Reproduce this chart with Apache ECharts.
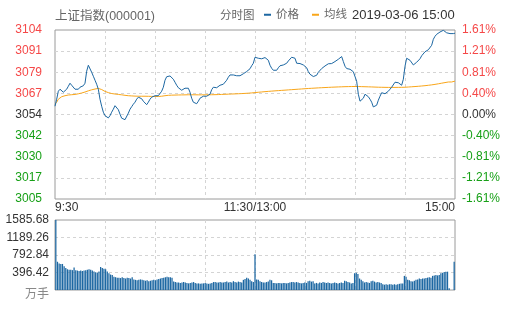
<!DOCTYPE html>
<html><head><meta charset="utf-8">
<script src="https://cdn.jsdelivr.net/npm/echarts@6/dist/echarts.min.js"></script>
<style>html,body{margin:0;padding:0;background:#fff}#c{width:505px;height:310px}</style>
</head><body><div id="c"></div>
<script>
const TITLE = '上证指数(000001)';
const SUBTITLE = '分时图';
const DATETIME = '2019-03-06 15:00';
const BASE = 3054.25;
const RANGE = 49.75;
const PRICE_LABELS = ['3005','3017','3030','3042','3054','3067','3079','3091','3104'];
const PCT_LABELS = ['-1.61%','-1.21%','-0.81%','-0.40%','0.00%','0.40%','0.81%','1.21%','1.61%'];
const TIME_LABELS = ['9:30','11:30/13:00','15:00'];
const VOL_MAX = 1585.68;
const VOL_LABELS = ['万手','396.42','792.84','1189.26','1585.68'];

const PRICES = [
3059.13,3063.25,3067.95,3069.13,3069.13,3067.37,3066.78,3069.13,3070.89,3072.66,
3071.48,3070.89,3069.13,3069.72,3069.13,3070.31,3070.89,3071.19,3072.66,3079.71,
3083.24,3082.65,3079.13,3076.77,3074.42,3072.07,3069.13,3063.25,3059.13,3055.61,
3053.55,3052.67,3052.25,3053.55,3055.61,3057.37,3059.43,3059.43,3057.08,3054.43,
3052.08,3051.20,3051.20,3052.08,3055.02,3057.37,3058.84,3060.31,3061.49,3063.25,
3064.43,3065.01,3063.54,3062.07,3060.90,3060.02,3061.49,3063.25,3064.43,3065.01,
3065.31,3065.31,3065.31,3065.60,3067.95,3070.31,3074.42,3076.48,3077.07,3076.95,
3076.19,3075.01,3073.25,3071.48,3070.01,3068.84,3068.54,3068.84,3069.72,3070.01,
3069.72,3067.37,3063.84,3061.49,3060.90,3060.60,3062.07,3063.84,3064.72,3065.01,
3064.72,3065.01,3065.31,3066.19,3068.84,3070.31,3071.48,3070.01,3070.60,3071.48,
3072.07,3072.07,3072.66,3074.42,3076.19,3077.54,3077.54,3077.54,3077.36,3077.07,
3076.48,3077.07,3077.66,3078.24,3079.13,3079.54,3080.30,3081.18,3082.95,3084.42,
3087.95,3088.12,3087.36,3086.77,3087.06,3087.18,3087.77,3087.06,3086.18,3083.24,
3081.48,3080.30,3079.42,3080.30,3081.77,3082.95,3083.42,3083.42,3083.83,3084.42,
3085.77,3086.77,3087.95,3088.71,3087.36,3084.42,3084.42,3084.24,3083.83,3083.42,
3083.83,3081.77,3079.42,3077.95,3077.19,3076.60,3076.60,3077.36,3079.13,3080.30,
3081.30,3081.89,3082.83,3083.54,3084.12,3084.24,3084.24,3084.71,3085.42,3086.01,
3086.77,3087.36,3088.36,3085.42,3082.65,3081.30,3080.89,3080.89,3080.30,3079.42,
3078.83,3073.83,3066.19,3062.07,3060.90,3063.84,3066.19,3065.60,3064.72,3063.25,
3061.49,3058.72,3058.37,3059.72,3062.66,3065.01,3067.07,3066.78,3066.48,3066.19,
3067.95,3069.13,3070.31,3071.48,3073.25,3073.83,3072.95,3072.36,3071.48,3075.01,
3082.65,3087.36,3087.95,3086.18,3085.01,3083.42,3084.12,3085.01,3086.18,3087.06,
3088.83,3090.00,3091.18,3092.06,3092.36,3092.94,3095.00,3098.53,3100.29,3101.47,
3102.06,3102.82,3103.23,3103.82,3103.06,3102.35,3101.88,3101.88,3101.88,3101.88,
3102.10
];

const AVG = [
3060.31,3061.49,3063.25,3064.13,3064.72,3065.01,3065.31,3065.49,3065.72,3065.78,
3065.90,3066.01,3066.07,3066.19,3066.43,3066.66,3066.90,3067.13,3067.48,3067.84,
3068.19,3068.54,3068.78,3069.01,3069.25,3069.48,3069.60,3069.42,3068.95,3068.25,
3067.84,3067.48,3067.13,3066.78,3066.60,3066.43,3066.31,3066.19,3066.07,3065.96,
3065.84,3065.66,3065.54,3065.43,3065.31,3065.25,3065.19,3065.13,3065.07,3065.01,
3065.01,3065.01,3065.01,3065.01,3065.01,3065.01,3064.96,3064.96,3064.90,3064.90,
3064.84,3064.84,3064.84,3064.96,3065.01,3065.13,3065.31,3065.49,3065.54,3065.60,
3065.63,3065.66,3065.69,3065.72,3065.74,3065.76,3065.78,3065.80,3065.82,3065.84,
3065.86,3065.87,3065.87,3065.86,3065.85,3065.84,3065.83,3065.83,3065.83,3065.83,
3065.83,3065.84,3065.85,3065.86,3065.88,3065.90,3065.93,3065.96,3065.99,3066.02,
3066.07,3066.11,3066.15,3066.19,3066.23,3066.27,3066.31,3066.35,3066.39,3066.43,
3066.47,3066.51,3066.56,3066.61,3066.67,3066.73,3066.80,3066.87,3066.95,3067.04,
3067.14,3067.24,3067.34,3067.43,3067.52,3067.61,3067.70,3067.78,3067.86,3067.94,
3068.02,3068.10,3068.17,3068.24,3068.31,3068.38,3068.45,3068.52,3068.59,3068.66,
3068.73,3068.80,3068.87,3068.94,3069.01,3069.08,3069.15,3069.22,3069.29,3069.36,
3069.43,3069.50,3069.56,3069.62,3069.68,3069.74,3069.80,3069.86,3069.92,3069.97,
3070.02,3070.07,3070.12,3070.17,3070.22,3070.27,3070.32,3070.36,3070.40,3070.44,
3070.48,3070.52,3070.56,3070.60,3070.63,3070.66,3070.68,3070.70,3070.72,3070.73,
3070.74,3070.74,3070.72,3070.69,3070.66,3070.63,3070.60,3070.57,3070.54,3070.51,
3070.47,3070.43,3070.39,3070.35,3070.32,3070.29,3070.27,3070.25,3070.23,3070.21,
3070.20,3070.19,3070.19,3070.19,3070.20,3070.21,3070.22,3070.23,3070.24,3070.26,
3070.30,3070.36,3070.43,3070.50,3070.57,3070.64,3070.71,3070.78,3070.86,3070.94,
3071.03,3071.12,3071.22,3071.33,3071.45,3071.57,3071.70,3071.84,3071.99,3072.15,
3072.32,3072.50,3072.68,3072.86,3073.04,3073.21,3073.38,3073.40,3073.40,3073.40,
3073.90
];

const VOLUMES = [
1585.68,640,600,590,590,540,500,470,460,460,
450,510,450,440,430,440,430,440,450,460,
470,460,440,420,400,390,420,520,500,480,
470,420,380,350,340,300,290,280,280,270,
290,270,260,280,270,260,290,240,230,220,
230,240,230,220,210,220,200,210,220,230,
220,240,250,260,270,280,290,300,290,290,
280,190,180,170,170,160,170,180,170,160,
150,160,170,180,160,150,150,140,150,150,
160,150,140,150,160,180,180,170,170,180,
170,170,180,190,170,180,170,200,180,170,
190,180,170,230,250,280,260,230,200,180,
810,240,230,200,180,170,170,180,190,230,
220,160,160,150,160,160,150,160,160,150,
160,170,180,180,170,180,170,160,150,160,
170,160,200,210,190,200,150,160,150,170,
160,180,170,160,170,160,150,160,170,160,
150,160,170,160,210,200,180,170,150,160,
380,390,360,260,230,200,170,180,170,160,
200,210,190,170,180,170,160,130,120,130,
120,130,130,120,130,120,130,140,150,150,
320,300,230,220,200,190,210,230,240,260,
250,260,260,270,280,290,280,320,330,340,
330,340,380,390,410,415,415,40,0,0,
640
];

const FONT = "'Liberation Sans','Noto Sans CJK SC',sans-serif";
const BLUE = '#1c67a2';
const ORANGE = '#f9a61a';
const RED = '#f54848';
const GREEN = '#17a017';
const DARK = '#333';
const GRAYTXT = '#666';
const BORDER = '#9a9a9a';
const DASH = '#d4d4d4';

const CATS = PRICES.map((_, i) => String(i));
const STEP = RANGE / 4;
const VSTEP = VOL_MAX / 4;
const priceIdx = v => Math.round((parseFloat(v) + RANGE) / STEP);
const volIdx = v => Math.round(parseFloat(v) / VSTEP);
const sideColor = v => { const i = priceIdx(v); return i < 4 ? GREEN : (i === 4 ? DARK : RED); };
const dashStyle = { color: DASH, type: [3, 3], width: 1 };

const chart = echarts.init(document.getElementById('c'), null, { renderer: 'canvas' });
chart.setOption({
  animation: false,
  backgroundColor: '#fff',
  title: {
    text: TITLE, left: 55, top: 10, padding: 0,
    textStyle: { fontSize: 12.5, fontWeight: 'normal', color: GRAYTXT, fontFamily: FONT }
  },
  legend: {
    data: ['价格', '均线'], left: 264, top: 9, padding: 0,
    icon: 'rect', itemWidth: 7, itemHeight: 2, itemGap: 13,
    textStyle: { color: GRAYTXT, fontSize: 11.5, fontFamily: FONT },
    selectedMode: false
  },
  graphic: [
    { type: 'text', left: 220, top: 10, style: { text: SUBTITLE, fill: GRAYTXT, fontSize: 11.5, fontFamily: FONT } },
    { type: 'text', left: 352, top: 9, style: { text: DATETIME, fill: DARK, fontSize: 13, fontFamily: FONT } }
  ],
  grid: [
    { left: 55, top: 30, width: 400, height: 169, show: true, borderColor: BORDER, borderWidth: 1, backgroundColor: 'transparent' },
    { left: 55, top: 220, width: 400, height: 70, show: true, borderColor: BORDER, borderWidth: 1, backgroundColor: 'transparent' }
  ],
  xAxis: [
    {
      type: 'category', gridIndex: 0, data: CATS, boundaryGap: false,
      axisLine: { show: false }, axisTick: { show: false },
      axisLabel: {
        interval: 119, margin: 3, color: DARK, fontSize: 12, fontFamily: FONT,
        formatter: (v) => {
          const n = parseInt(v, 10);
          if (n === 0) return '{l|' + TIME_LABELS[0] + '}';
          if (n === 240) return '{r|' + TIME_LABELS[2] + '}';
          return TIME_LABELS[1];
        },
        rich: {
          l: { padding: [0, 0, 0, 23.5], color: DARK, fontSize: 12, fontFamily: FONT },
          r: { padding: [0, 30, 0, 0], color: DARK, fontSize: 12, fontFamily: FONT }
        }
      },
      splitLine: { show: true, interval: (i) => i > 0 && i < 240 && i % 30 === 0, lineStyle: dashStyle }
    },
    {
      type: 'category', gridIndex: 1, data: CATS, boundaryGap: true,
      axisLine: { show: false }, axisTick: { show: false }, axisLabel: { show: false },
      splitLine: { show: false }
    },
    {
      type: 'value', gridIndex: 1, min: 0, max: 240, interval: 30,
      axisLine: { show: false }, axisTick: { show: false }, axisLabel: { show: false },
      splitLine: { show: true, showMinLine: false, showMaxLine: false, lineStyle: dashStyle }
    }
  ],
  yAxis: [
    {
      type: 'value', gridIndex: 0, min: -RANGE, max: RANGE, interval: STEP,
      axisLine: { show: false }, axisTick: { show: false },
      splitLine: { show: true, showMinLine: false, showMaxLine: false, lineStyle: dashStyle },
      axisLabel: {
        margin: 13, fontSize: 12, fontFamily: FONT,
        formatter: v => PRICE_LABELS[priceIdx(v)],
        color: v => sideColor(v)
      }
    },
    {
      type: 'value', gridIndex: 0, position: 'right', min: -RANGE, max: RANGE, interval: STEP,
      axisLine: { show: false }, axisTick: { show: false }, splitLine: { show: false },
      axisLabel: {
        margin: 7, fontSize: 12, fontFamily: FONT,
        formatter: v => PCT_LABELS[priceIdx(v)],
        color: v => sideColor(v)
      }
    },
    {
      type: 'value', gridIndex: 1, min: 0, max: VOL_MAX, interval: VSTEP,
      axisLine: { show: false }, axisTick: { show: false },
      splitLine: { show: true, showMinLine: false, showMaxLine: false, lineStyle: dashStyle },
      axisLabel: {
        margin: 6, fontSize: 12, fontFamily: FONT, color: DARK,
        formatter: v => { const i = volIdx(v); return i === 0 ? '{u|' + VOL_LABELS[0] + '}' : VOL_LABELS[i]; },
        rich: { u: { color: '#888', fontSize: 12, fontFamily: FONT, padding: [9, 0, 0, 0] } }
      }
    }
  ],
  series: [
    {
      name: '均线', type: 'line', xAxisIndex: 0, yAxisIndex: 0,
      data: AVG.map(p => +(p - BASE).toFixed(2)),
      showSymbol: false, symbol: 'none', z: 2,
      lineStyle: { width: 1, color: ORANGE }, itemStyle: { color: ORANGE }
    },
    {
      name: '价格', type: 'line', xAxisIndex: 0, yAxisIndex: 0,
      data: PRICES.map(p => +(p - BASE).toFixed(2)),
      showSymbol: false, symbol: 'none', z: 3,
      lineStyle: { width: 1, color: BLUE }, itemStyle: { color: BLUE }
    },
    {
      name: '成交量', type: 'bar', xAxisIndex: 1, yAxisIndex: 2,
      data: VOLUMES, barWidth: 1.25, itemStyle: { color: BLUE }
    }
  ]
});
</script>
</body></html>
